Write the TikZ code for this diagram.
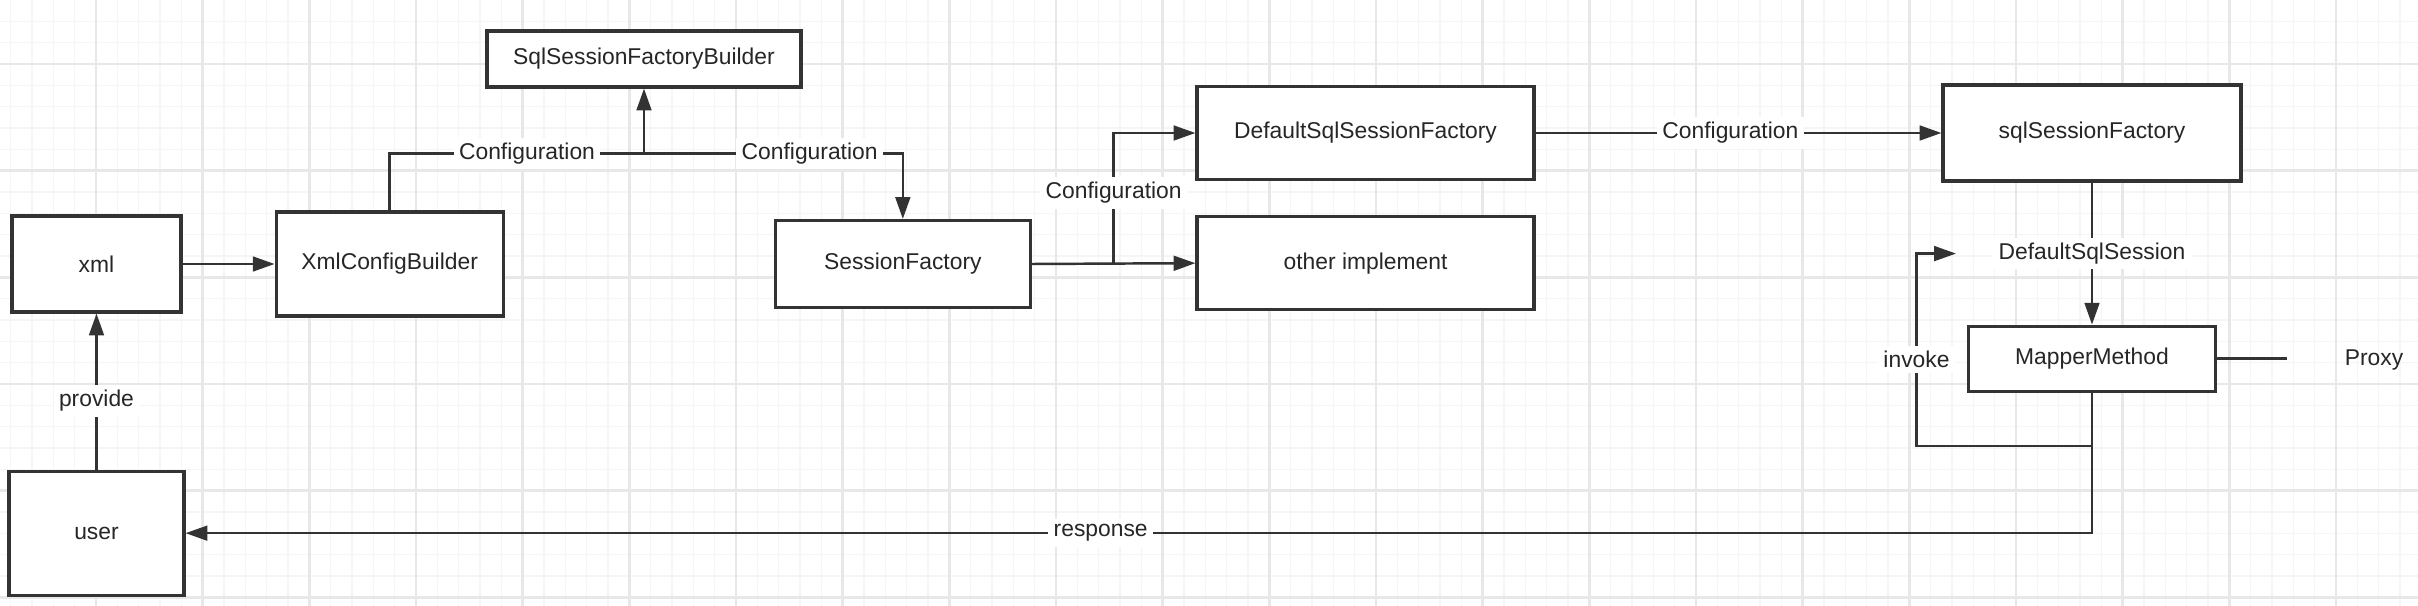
\documentclass[tikz,border=0pt]{standalone}
\usepackage{fontspec}
\setmainfont{Liberation Sans}
\usetikzlibrary{arrows.meta,positioning,calc}
\colorlet{boxedge}{black!80}
\colorlet{lineclr}{black!80}
\colorlet{txtclr}{black!85}
\colorlet{gridmajor}{black!9}
\colorlet{gridminor}{black!4}

\begin{document}
\begin{tikzpicture}[
    font=\fontsize{6.5}{8}\selectfont,
    box/.style={draw=boxedge, line width=0.9pt, fill=white, inner sep=0pt,
                text=txtclr},
    arr/.style={-{Triangle[length=6.2pt, width=4.2pt]}, line width=0.7pt, draw=lineclr},
    conn/.style={line width=0.7pt, draw=lineclr},
    lbl/.style={fill=white, inner sep=1.5pt, text=txtclr}
  ]
  \useasboundingbox (0,0) rectangle (24.18,6.06);
  \fill[white] (0,0) rectangle (24.18,6.06);

  % grid behind everything
  \foreach \i in {-4,...,108}
    \draw[gridminor, line width=0.4pt] ({0.96+\i*0.21333},0) -- ++(0,6.06);
  \foreach \j in {-2,...,25}
    \draw[gridminor, line width=0.4pt] (0,{5.42-\j*0.21333}) -- ++(24.18,0);
  \foreach \i in {0,...,21}
    \draw[gridmajor, line width=0.7pt] ({0.96+\i*1.06667},0) -- ++(0,6.06);
  \foreach \j in {0,...,5}
    \draw[gridmajor, line width=0.7pt] (0,{5.42-\j*1.06667}) -- ++(24.18,0);

  \node[box, minimum width=16.9mm, minimum height=9.6mm] (xml) at (0.965,3.42) {xml};
  \node[box, minimum width=22.7mm, minimum height=10.4mm, right=9.2mm of xml] (xcb)
    {XmlConfigBuilder};
  \node[box, minimum width=31.4mm, minimum height=5.6mm] (ssfb) at (6.44,5.47)
    {SqlSessionFactoryBuilder};
  \node[box, minimum width=25.5mm, minimum height=8.7mm, right=26.9mm of xcb] (sf)
    {SessionFactory};
  \node[box, minimum width=33.7mm, minimum height=9.3mm] (dssf) at (13.655,4.73)
    {DefaultSqlSessionFactory};
  \node[box, minimum width=33.7mm, minimum height=9.3mm, below=3.4mm of dssf] (other)
    {other implement};
  \node[box, minimum width=29.8mm, minimum height=9.6mm] (ssf) at (20.92,4.73)
    {sqlSessionFactory};
  \node[box, minimum width=24.7mm, minimum height=6.5mm, below=14.2mm of ssf] (mm)
    {MapperMethod};
  \node[box, minimum width=17.5mm, minimum height=12.4mm, below=15.6mm of xml] (user)
    {user};
  \node[text=txtclr] (proxy) at (23.74,2.46) {Proxy};

  \draw[arr] (xml) -- (xcb);
  \coordinate (split) at ($(ssfb.south)+(0,-0.65)$);
  \draw[arr] (xcb.north) |- node[lbl, pos=0.77] {Configuration} (split) -- (ssfb.south);
  \draw[arr] (split) -| node[lbl, pos=0.32] {Configuration} (sf.north);

  \coordinate (fork) at ($(sf.east)!0.5!(other.west)$);
  \draw[arr] (sf.east) -- (other.west);
  \draw[arr] (fork) |- node[lbl, pos=0.27] {Configuration} (dssf.west);
  \draw[arr] (dssf) -- node[lbl, pos=0.48] {Configuration} (ssf);
  \draw[arr] (ssf) -- node[lbl] {DefaultSqlSession} (mm);

  % invoke loop and answer back to the user
  \coordinate (back) at ($(mm.south)+(-1.755,-0.53)$);
  \coordinate (invk) at ($(ssf.south)+(-1.36,-0.71)$);
  \draw[arr] (mm.south) |- (back) |- node[lbl, pos=0.225] {invoke} (invk);
  \draw[arr] (mm.south) |- node[lbl, pos=0.76] {response} (user.east);
  \draw[arr] (user) -- node[lbl, pos=0.44] {provide} (xml);

  \coordinate (pxend) at ($(mm.east)+(0.7,0)$);
  \draw[conn] (mm.east) -- (pxend);
\end{tikzpicture}
\end{document}
